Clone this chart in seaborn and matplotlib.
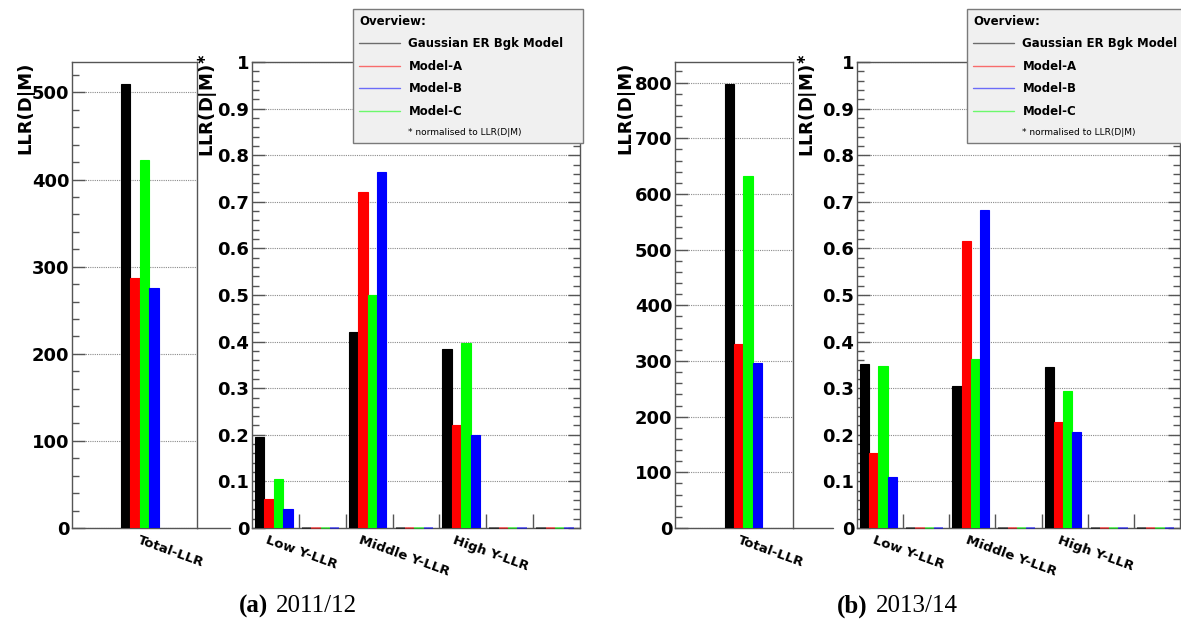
import matplotlib
matplotlib.use("Agg")
import matplotlib.pyplot as plt
import pandas as pd
import seaborn as sns
from matplotlib.lines import Line2D
from matplotlib.ticker import MultipleLocator, FuncFormatter

sns.set_style("white")
plt.rcParams["font.family"] = ["DejaVu Sans"]
plt.rcParams["font.weight"] = "bold"
plt.rcParams["axes.labelweight"] = "bold"
for key in ["text.color", "axes.labelcolor", "xtick.color", "ytick.color",
            "xtick.labelcolor", "ytick.labelcolor", "legend.labelcolor"]:
    plt.rcParams[key] = "black"

# ---------------------------------------------------------------- data
models = ["Gaussian ER Bgk Model", "Model-A", "Model-C", "Model-B"]      # bar order
legend_models = ["Gaussian ER Bgk Model", "Model-A", "Model-B", "Model-C"]
model_colors = {"Gaussian ER Bgk Model": "#000000", "Model-A": "#ff0000",
                "Model-B": "#0000ff", "Model-C": "#00ff00"}

total_bins = ["Total-LLR"]
y_bins = ["Low Y-LLR", "empty-1", "Middle Y-LLR", "empty-2",
          "High Y-LLR", "empty-3", "empty-4"]
y_bin_labels = ["Low Y-LLR", "", "Middle Y-LLR", "", "High Y-LLR", "", ""]

# 2011/12
total_1112_gauss = [510]
total_1112_a = [287]
total_1112_c = [423]
total_1112_b = [275]
norm_1112_gauss = [0.195, 0, 0.421, 0, 0.384, 0, 0]
norm_1112_a = [0.062, 0, 0.720, 0, 0.221, 0, 0]
norm_1112_c = [0.105, 0, 0.500, 0, 0.397, 0, 0]
norm_1112_b = [0.041, 0, 0.763, 0, 0.200, 0, 0]

# 2013/14
total_1314_gauss = [798]
total_1314_a = [330]
total_1314_c = [633]
total_1314_b = [297]
norm_1314_gauss = [0.352, 0, 0.305, 0, 0.345, 0, 0]
norm_1314_a = [0.160, 0, 0.615, 0, 0.227, 0, 0]
norm_1314_c = [0.347, 0, 0.362, 0, 0.293, 0, 0]
norm_1314_b = [0.110, 0, 0.683, 0, 0.207, 0, 0]

W, H = 1181, 634
AX_COLOR = "#555555"


def long_frame(bins, gauss, a, c, b):
    rows = []
    for model, vals in zip(models, [gauss, a, c, b]):
        for name, v in zip(bins, vals):
            rows.append({"bin": name, "model": model, "value": v})
    return pd.DataFrame(rows)


def panel(rect, bins, labels, df, ymax, xlim, major, minor, label_shift,
          right_ticks, fmt=None):
    ax = fig.add_axes([rect[0] / W, (H - 528) / H, rect[1] / W, 466 / H])
    sns.barplot(data=df, x="bin", y="value", hue="model", order=bins,
                hue_order=models, palette=model_colors, width=0.8,
                saturation=1, errorbar=None, legend=False, ax=ax)
    for p in ax.patches:
        p.set_edgecolor(p.get_facecolor())
        p.set_linewidth(0.8)
        p.set_zorder(3)
        if p.get_height() == 0:
            # empty bins still show each histogram as a flat line
            p.set_linewidth(1.2)
            p.set_alpha(0.6)
            p.set_clip_on(False)
    ax.set_xlim(*xlim)
    ax.set_ylim(0, ymax)
    ax.set_xlabel("")
    ax.set_ylabel("")
    # bin boundaries as ticks, category names between them
    n = len(bins)
    ax.set_xticks([k + 0.535 for k in range(n - 1)])
    ax.set_xticklabels([])
    ax.set_xticks([k + label_shift for k in range(n)], minor=True)
    ax.set_xticklabels(labels, minor=True, rotation=-20, ha="left",
                       va="top", rotation_mode="anchor", fontsize=9.5)
    ax.tick_params(axis="x", which="major", direction="in", length=10,
                   width=1, color=AX_COLOR, bottom=True)
    ax.tick_params(axis="x", which="minor", length=0, pad=4)
    ax.yaxis.set_major_locator(MultipleLocator(major))
    ax.yaxis.set_minor_locator(MultipleLocator(minor))
    if fmt is not None:
        ax.yaxis.set_major_formatter(FuncFormatter(fmt))
    ax.tick_params(axis="y", which="major", direction="in", length=9,
                   width=1, color=AX_COLOR, labelsize=13, pad=2,
                   left=True, right=right_ticks)
    ax.tick_params(axis="y", which="minor", direction="in", length=5,
                   width=1, color=AX_COLOR, left=True, right=right_ticks)
    ax.grid(False)
    ax.yaxis.grid(True, which="major", color="#8a8a8a",
                  linestyle=(0, (1, 1)), linewidth=0.8)
    ax.set_axisbelow(True)
    for s in ax.spines.values():
        s.set_visible(True)
        s.set_color(AX_COLOR)
        s.set_linewidth(1.0)
    return ax


def legend_box(x0):
    handles = [Line2D([], [], color=model_colors[m], lw=1.0, alpha=0.55)
               for m in legend_models]
    labels = list(legend_models)
    handles.append(Line2D([], [], color="none"))
    labels.append("* normalised to LLR(D|M)")
    leg = fig.legend(handles, labels, loc="upper left",
                     bbox_to_anchor=(x0 / W, 1 - 9 / H, 230 / W, 0),
                     mode="expand", title="Overview:", alignment="left",
                     frameon=True, fancybox=False, edgecolor="#7a7a7a",
                     facecolor="#f0f0f0", framealpha=1, fontsize=8.5,
                     title_fontsize=8.5, handlelength=3.5,
                     handletextpad=0.7, labelspacing=0.8, borderpad=0.5,
                     borderaxespad=0)
    leg.get_frame().set_linewidth(1.0)
    foot = leg.get_texts()[-1]
    foot.set_fontsize(6.5)
    foot.set_fontweight("normal")
    return leg


fig = plt.figure(figsize=(W / 100, H / 100), dpi=100)

decimal = lambda v, p: f"{v:g}"

periods = [
    dict(left=(72, 125), lxlim=(-1.444, 1.216), lmax=535, lshift=0.0,
         ext=1.264, right=(252, 328), rshift=-0.12, legend_x=353,
         total=(total_1112_gauss, total_1112_a, total_1112_c, total_1112_b),
         norm=(norm_1112_gauss, norm_1112_a, norm_1112_c, norm_1112_b),
         llab=-0.304, rlab=-0.098, cap_x=268, tag="(a)", year="2011/12"),
    dict(left=(675, 118), lxlim=(-1.487, 1.078), lmax=837, lshift=-0.06,
         ext=1.339, right=(857, 323), rshift=-0.06, legend_x=967,
         total=(total_1314_gauss, total_1314_a, total_1314_c, total_1314_b),
         norm=(norm_1314_gauss, norm_1314_a, norm_1314_c, norm_1314_b),
         llab=-0.347, rlab=-0.115, cap_x=868, tag="(b)", year="2013/14"),
]

for p in periods:
    axl = panel(p["left"], total_bins, total_bins,
                long_frame(total_bins, *p["total"]), p["lmax"], p["lxlim"],
                100, 20, p["lshift"], False)
    axl.plot([1, p["ext"]], [0, 0], transform=axl.transAxes,
             color=AX_COLOR, lw=1.0, clip_on=False, zorder=2)
    axl.set_ylabel("LLR(D|M)", fontsize=13, loc="top", va="bottom")
    axl.yaxis.set_label_coords(p["llab"], 1.0)

    axr = panel(p["right"], y_bins, y_bin_labels,
                long_frame(y_bins, *p["norm"]), 1.0, (-0.465, 6.535),
                0.1, 0.02, p["rshift"], True, fmt=decimal)
    axr.set_ylabel(r"LLR(D|M)$^{\ast}$", fontsize=13, loc="top",
                   va="bottom")
    axr.yaxis.set_label_coords(p["rlab"], 1.02)

    legend_box(p["legend_x"])

    fig.text(p["cap_x"] / W, 1 - 606 / H, p["tag"], ha="right",
             va="center", family="Liberation Serif", weight="bold",
             fontsize=18)
    fig.text((p["cap_x"] + 8) / W, 1 - 606 / H, p["year"], ha="left",
             va="center", family="Liberation Serif", weight="normal",
             fontsize=18)

fig.savefig("out.png", dpi=100)
